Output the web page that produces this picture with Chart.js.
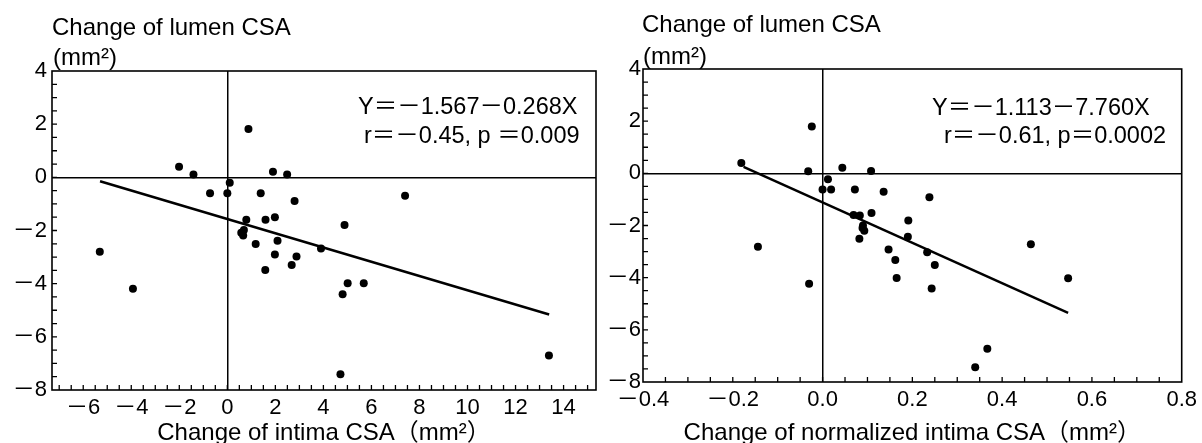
<!DOCTYPE html>
<html>
<head>
<meta charset="utf-8">
<script src="https://cdn.jsdelivr.net/npm/chart.js@4"></script>
<style>
  body { margin: 0; background: #fff; }
  .wrap { position: absolute; top: 0; height: 443px; }
  canvas { display: block; }
</style>
</head>
<body>
<div class="wrap" style="left:0;width:600px"><canvas id="intimaChart" width="600" height="443"></canvas></div>
<div class="wrap" style="left:600px;width:602px"><canvas id="normChart" width="602" height="443"></canvas></div>
<script>
// === DATA: change of intima CSA vs change of lumen CSA ===
const intimaX = [0.88, 1.9, 2.49, 0.1, -0.72, 0.0, 1.39, 2.8, 7.4, 0.79, 1.59, 1.98, 4.88, 0.69, 0.58, 0.66,
  1.18, 2.09, 3.9, 1.98, 2.88, 2.68, 1.58, 5.01, 5.68, 4.8, -2.01, -1.41, -5.31, -3.93, 4.71, 13.39];
const intimaY = [1.82, 0.21, 0.11, -0.2, -0.6, -0.6, -0.6, -0.89, -0.69, -1.6, -1.6, -1.5, -1.79, -1.98, -2.08, -2.19,
  -2.51, -2.39, -2.68, -2.9, -2.98, -3.3, -3.49, -3.98, -3.98, -4.4, 0.4, 0.11, -2.8, -4.19, -7.41, -6.7];
const intimaFitX = [-5.3, 13.4];
const intimaFitY = [-0.15, -5.16];

// === DATA: change of normalized intima CSA vs change of lumen CSA ===
const normX = [-0.181, -0.032, 0.044, 0.108, 0.012, 0.0, 0.019, 0.072, 0.136, 0.238, 0.069, 0.083, 0.109, 0.191, 0.09, 0.089,
  0.093, 0.082, 0.19, 0.147, 0.233, 0.162, 0.25, 0.165, 0.243, -0.144, -0.03, -0.024, 0.464, 0.547, 0.367, 0.34];
const normY = [0.4, 0.08, 0.21, 0.09, -0.23, -0.62, -0.62, -0.62, -0.71, -0.92, -1.6, -1.62, -1.52, -1.81, -2.0, -2.1,
  -2.2, -2.51, -2.43, -2.92, -3.03, -3.32, -3.51, -4.01, -4.42, -2.81, -4.23, 1.8, -2.72, -4.02, -6.73, -7.43];
const normFitX = [-0.176, 0.547];
const normFitY = [0.25, -5.35];

// labelled tick values
const yLabelTicks = [-8, -6, -4, -2, 0, 2, 4];
const intimaLabelTicks = [-6, -4, -2, 0, 2, 4, 6, 8, 10, 12, 14];
const normLabelTicks = [-0.4, -0.2, 0.0, 0.2, 0.4, 0.6, 0.8];

const FONT = '"Liberation Sans", "Noto Sans CJK JP", Arial, sans-serif';
const fmt = (v, digits) => (v < 0 ? "－" : "") + Math.abs(v).toFixed(digits);
const isLabelled = (list, v) => list.some(t => Math.abs(t - v) < 1e-6);
const pts = (xs, ys) => xs.map((x, i) => ({ x: x, y: ys[i] }));

// frame, inward tick marks and free text
const framePlugin = {
  id: "frame",
  afterDraw(chart, args, opts) {
    const ctx = chart.ctx;
    const a = chart.chartArea;
    const xs = chart.scales.x, ys = chart.scales.y;
    ctx.save();
    ctx.strokeStyle = "#000";
    ctx.lineWidth = 1.6;
    ctx.strokeRect(a.left, a.top, a.right - a.left, a.bottom - a.top);
    ctx.lineWidth = 1.3;
    ctx.beginPath();
    xs.ticks.forEach(t => {
      if (t.value <= xs.min || t.value >= xs.max) return;
      const p = xs.getPixelForValue(t.value);
      ctx.moveTo(p, a.bottom);
      ctx.lineTo(p, a.bottom - 5);
    });
    ys.ticks.forEach(t => {
      if (t.value <= ys.min || t.value >= ys.max) return;
      const p = ys.getPixelForValue(t.value);
      ctx.moveTo(a.left, p);
      ctx.lineTo(a.left + 5, p);
    });
    ctx.stroke();
    ctx.fillStyle = "#000";
    ctx.textBaseline = "middle";
    ctx.textAlign = "left";
    opts.texts.forEach(t => {
      ctx.font = t.size + "px " + FONT;
      ctx.fillText(t.text, t.x, t.y);
    });
    ctx.restore();
  }
};

function makeChart(id, cfg) {
  return new Chart(document.getElementById(id), {
    type: "scatter",
    data: {
      datasets: [
        {
          data: pts(cfg.xs, cfg.ys),
          backgroundColor: "#000",
          borderWidth: 0,
          pointRadius: 4
        },
        {
          type: "line",
          data: pts(cfg.fitX, cfg.fitY),
          borderColor: "#000",
          borderWidth: 2.5,
          pointRadius: 0,
          fill: false
        }
      ]
    },
    options: {
      responsive: false,
      animation: false,
      layout: { padding: cfg.padding },
      plugins: {
        legend: { display: false },
        tooltip: { enabled: false },
        frame: { texts: cfg.texts }
      },
      scales: {
        x: {
          type: "linear",
          min: cfg.xMin,
          max: cfg.xMax,
          afterFit: s => { s.height = cfg.xHeight; },
          border: { display: false },
          grid: {
            drawTicks: false,
            lineWidth: 1.5,
            color: c => (c.tick && Math.abs(c.tick.value) < 1e-9 ? "#000" : "rgba(0,0,0,0)")
          },
          ticks: {
            stepSize: cfg.xStep,
            includeBounds: false,
            autoSkip: false,
            maxRotation: 0,
            padding: 5,
            color: "#000",
            font: { family: FONT, size: 22 },
            callback: v => (isLabelled(cfg.xLabels, v) ? fmt(v, cfg.xDigits) : "")
          },
          title: {
            display: true,
            text: cfg.xTitle,
            color: "#000",
            font: { family: FONT, size: 24, lineHeight: 0.9 },
            padding: { top: 0, bottom: -1 }
          }
        },
        y: {
          min: -8,
          max: 4,
          afterFit: s => { s.width = cfg.yWidth; },
          border: { display: false },
          grid: {
            drawTicks: false,
            lineWidth: 1.5,
            color: c => (c.tick && Math.abs(c.tick.value) < 1e-9 ? "#000" : "rgba(0,0,0,0)")
          },
          ticks: {
            stepSize: 0.5,
            includeBounds: false,
            autoSkip: false,
            padding: cfg.yPad,
            color: "#000",
            font: { family: FONT, size: 22 },
            callback: v => (isLabelled(yLabelTicks, v) ? fmt(v, 0) : "")
          }
        }
      }
    },
    plugins: [framePlugin]
  });
}

makeChart("intimaChart", {
  xs: intimaX, ys: intimaY, fitX: intimaFitX, fitY: intimaFitY,
  xMin: -7.3, xMax: 15.35, xStep: 0.5, xLabels: intimaLabelTicks, xDigits: 0,
  xTitle: "Change of intima CSA（mm²）",
  padding: { top: 71, right: 2, left: 0, bottom: 0 },
  xHeight: 53, yWidth: 52, yPad: 5,
  texts: [
    { text: "Change of lumen CSA", x: 52, y: 28, size: 24 },
    { text: "(mm²)", x: 53, y: 58, size: 24 },
    { text: "Y＝－1.567－0.268X", x: 358, y: 108, size: 23.5 },
    { text: "r＝－0.45, p ＝0.009", x: 364, y: 137, size: 23.5 }
  ]
});

makeChart("normChart", {
  xs: normX, ys: normY, fitX: normFitX, fitY: normFitY,
  xMin: -0.4, xMax: 0.8, xStep: 0.05, xLabels: normLabelTicks, xDigits: 1,
  xTitle: "Change of normalized intima CSA（mm²）",
  padding: { top: 69, right: 18, left: 0, bottom: 0 },
  xHeight: 61, yWidth: 43, yPad: 2,
  texts: [
    { text: "Change of lumen CSA", x: 42, y: 25, size: 24 },
    { text: "(mm²)", x: 43, y: 57, size: 24 },
    { text: "Y＝－1.113－7.760X", x: 332, y: 109, size: 23.5 },
    { text: "r＝－0.61, p＝0.0002", x: 344, y: 137, size: 23.5 }
  ]
});
</script>
</body>
</html>
